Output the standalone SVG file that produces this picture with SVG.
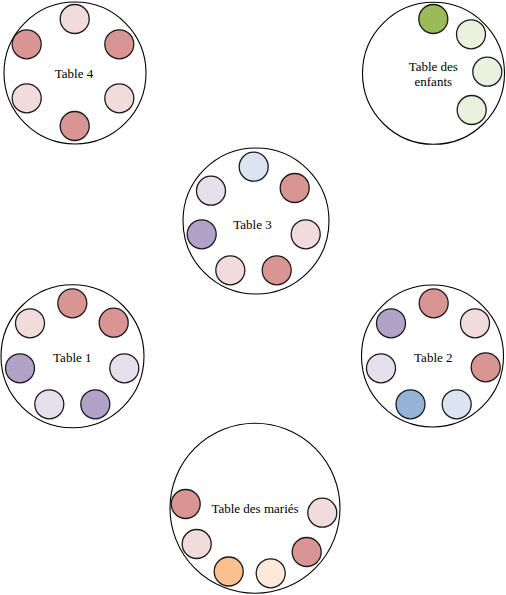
<svg xmlns="http://www.w3.org/2000/svg" width="506" height="595" viewBox="0 0 506 595">
<style>
.table{fill:#fff;stroke:#000;stroke-width:1.1}
.seat{stroke:#1a1a1a;stroke-width:1.3}
.rd{fill:#d99594}.rl{fill:#f2dcdb}
.ld{fill:#b3a2c7}.ll{fill:#e6e0ec}
.bd{fill:#95b3d7}.bl{fill:#dbe5f1}
.gd{fill:#9bbb59}.gl{fill:#ebf1de}
.od{fill:#fac08f}.ol{fill:#fde9d9}
.lbl{font-family:'Liberation Serif','Times New Roman',serif;font-size:13px;fill:#000;text-anchor:middle}
</style>
<rect width="506" height="595" fill="#fff"/>
<g id="connectors"></g>
<g id="table4">
<circle class="table" cx="75" cy="73" r="71"/>
<circle class="seat rl" cx="74.7" cy="19" r="14.5"/>
<circle class="seat rd" cx="26.7" cy="44.3" r="14.5"/>
<circle class="seat rd" cx="119.3" cy="44.3" r="14.5"/>
<circle class="seat rl" cx="26.7" cy="98.3" r="14.5"/>
<circle class="seat rl" cx="119.3" cy="98.3" r="14.5"/>
<circle class="seat rd" cx="74.7" cy="126" r="14.5"/>
<text class="lbl" x="74" y="77.5">Table 4</text>
</g>
<g id="table-enfants">
<circle class="table" cx="433.5" cy="73.3" r="71"/>
<circle class="seat gd" cx="433.3" cy="19" r="14.5"/>
<circle class="seat gl" cx="471" cy="34.3" r="14.5"/>
<circle class="seat gl" cx="487.3" cy="71.7" r="14.5"/>
<circle class="seat gl" cx="471.7" cy="110" r="14.5"/>
<text class="lbl" x="433.3" y="71">Table des</text>
<text class="lbl" x="433.3" y="85.5">enfants</text>
</g>
<g id="table3">
<circle class="table" cx="256" cy="221" r="73"/>
<circle class="seat bl" cx="253.7" cy="166.7" r="14.5"/>
<circle class="seat rd" cx="294.7" cy="188" r="14.5"/>
<circle class="seat ll" cx="211" cy="190.7" r="14.5"/>
<circle class="seat ld" cx="201.7" cy="234.3" r="14.5"/>
<circle class="seat rl" cx="305.7" cy="234.3" r="14.5"/>
<circle class="seat rl" cx="230.3" cy="270.3" r="14.5"/>
<circle class="seat rd" cx="276.7" cy="270.3" r="14.5"/>
<text class="lbl" x="252.5" y="229">Table 3</text>
</g>
<g id="table1">
<circle class="table" cx="72.5" cy="356.3" r="71.5"/>
<circle class="seat rd" cx="72.3" cy="303.3" r="14.5"/>
<circle class="seat rd" cx="113.7" cy="322.7" r="14.5"/>
<circle class="seat rl" cx="30" cy="323.3" r="14.5"/>
<circle class="seat ld" cx="20" cy="368.3" r="14.5"/>
<circle class="seat ll" cx="124.3" cy="368.3" r="14.5"/>
<circle class="seat ll" cx="49.3" cy="404.3" r="14.5"/>
<circle class="seat ld" cx="95.3" cy="404.3" r="14.5"/>
<text class="lbl" x="72.3" y="361.5">Table 1</text>
</g>
<g id="table2">
<circle class="table" cx="432.5" cy="356" r="71"/>
<circle class="seat rd" cx="433.7" cy="303.3" r="14.5"/>
<circle class="seat ld" cx="391" cy="323.3" r="14.5"/>
<circle class="seat rl" cx="475" cy="323.3" r="14.5"/>
<circle class="seat ll" cx="381" cy="368.3" r="14.5"/>
<circle class="seat rd" cx="485.7" cy="367.3" r="14.5"/>
<circle class="seat bd" cx="410.5" cy="404.3" r="14.5"/>
<circle class="seat bl" cx="456.7" cy="404.3" r="14.5"/>
<text class="lbl" x="433.3" y="361.5">Table 2</text>
</g>
<g id="table-maries">
<circle class="table" cx="255" cy="508.3" r="85"/>
<circle class="seat rd" cx="185.7" cy="504" r="14.5"/>
<circle class="seat rl" cx="322.3" cy="512.7" r="14.5"/>
<circle class="seat rl" cx="196.7" cy="544" r="14.5"/>
<circle class="seat rd" cx="306.7" cy="552" r="14.5"/>
<circle class="seat od" cx="228.7" cy="571.5" r="14.5"/>
<circle class="seat ol" cx="270.7" cy="573.3" r="14.5"/>
<text class="lbl" x="255" y="513">Table des mariés</text>
</g>
</svg>
